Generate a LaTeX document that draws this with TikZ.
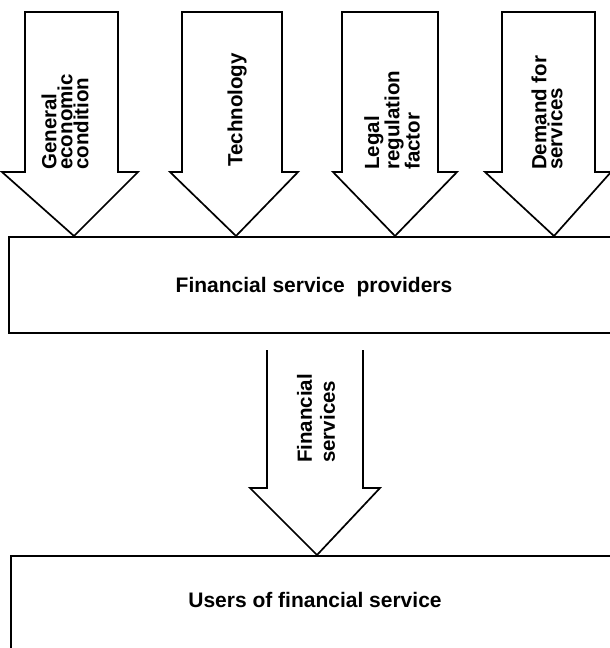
\documentclass[tikz,border=0pt]{standalone}
\usepackage{fontspec}
\setmainfont{Liberation Sans}
\begin{document}
\begin{tikzpicture}[x=1pt,y=-1pt,line join=miter,
  arr/.style={draw,line width=1.7pt},
  boxline/.style={draw,line width=2pt,rectangle,anchor=north west,inner sep=0pt},
  vlabel/.style={rotate=90,anchor=west,inner sep=0pt,align=left,font=\bfseries\fontsize{20.5}{16}\selectfont},
  hlabel/.style={inner sep=0pt,font=\bfseries\fontsize{21}{25}\selectfont}]
\useasboundingbox (0,0) rectangle (610,648);
\clip (0,0) rectangle (610,648);
% boxes
\node[boxline,minimum width=612pt,minimum height=96pt] (prov) at (8,236) {};
\node[boxline,minimum width=620pt,minimum height=110pt] (users) at (10,555) {};
% tips
\coordinate (t1) at (74,0 |- prov.north);
\coordinate (t2) at (236,0 |- prov.north);
\coordinate (t3) at (395,0 |- prov.north);
\coordinate (t4) at (554,0 |- prov.north);
\coordinate (t5) at (317,0 |- users.north);
% arrows
\draw[arr] (25,12) -- (118,12) -- (118,172) -- (138,172) -- (t1) -- (2,172) -- (25,172) -- cycle;
\draw[arr] (182,12) -- (282,12) -- (282,172) -- (298,172) -- (t2) -- (170,172) -- (182,172) -- cycle;
\draw[arr] (342,12) -- (438,12) -- (438,172) -- (457,172) -- (t3) -- (333,172) -- (342,172) -- cycle;
\draw[arr] (502,12) -- (595,12) -- (595,172) -- (611,172) -- (t4) -- (485,172) -- (502,172) -- cycle;
\draw[arr] (267,350) -- (267,488) -- (250,488) -- (t5) -- (380,488) -- (363,488) -- (363,350);
% labels
\node[vlabel] (l1) at (65,170) {General\\economic\\condition};
\node[vlabel] (l2) at (237,167) {Technology};
\node[vlabel] (l3) at (392,170) {Legal\\regulation\\factor};
\node[vlabel] (l4) at (547,170) {Demand for\\services};
\node[vlabel,font=\bfseries\fontsize{20.5}{23}\selectfont] (l5) at (316,463) {Financial\\services};
\node[hlabel] (provtext) at (314,287) {Financial service\ \ providers};
\node[hlabel] (userstext) at (315,600) {Users of financial service};
\end{tikzpicture}
\end{document}
